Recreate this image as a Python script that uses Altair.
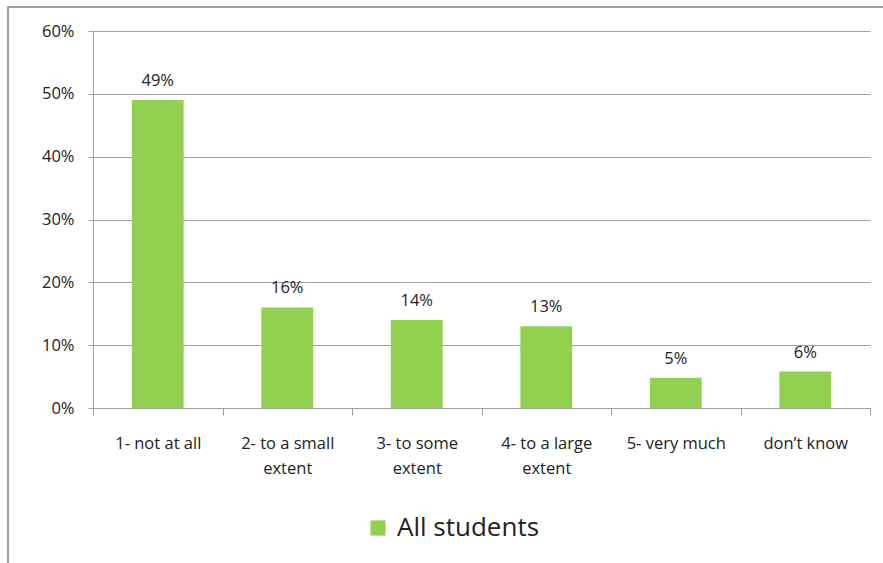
import altair as alt
import pandas as pd

categories = ["1- not at all", "2- to a small\nextent", "3- to some\nextent",
              "4- to a large\nextent", "5- very much", "don\u2019t know"]
values = [0.49, 0.16, 0.14, 0.13, 0.048, 0.058]
series = "All students"
y_ticks = [0, 0.1, 0.2, 0.3, 0.4, 0.5, 0.6]

df = pd.DataFrame({"category": categories, "value": values, "series": [series] * len(categories)})

FONT = "Open Sans"
GREEN = "#92D050"
GRAY = "#A0A0A0"

base = alt.Chart(df)

x = alt.X("category:N", sort=categories, title=None,
          scale=alt.Scale(paddingInner=0, paddingOuter=0),
          axis=alt.Axis(labelAngle=0, labelExpr='split(datum.label, "\\n")',
                        labelLineHeight=25, labelPadding=28, tickBand="extent",
                        tickSize=7, domainColor=GRAY, tickColor=GRAY,
                        labelFontSize=16.5, labelFont=FONT, labelColor="#222",
                        labelBaseline="middle"))
y = alt.Y("value:Q", title=None,
          scale=alt.Scale(domain=[0, 0.6], nice=False),
          axis=alt.Axis(values=y_ticks, format=".0%", tickSize=5, labelPadding=14,
                        domainColor=GRAY, tickColor=GRAY, gridColor=GRAY,
                        labelFontSize=16.5, labelFont=FONT, labelColor="#222"))

bars = base.mark_bar(width=alt.RelativeBandSize(0.4)).encode(
    x=x, y=y,
    color=alt.Color("series:N", title=None,
                    scale=alt.Scale(domain=[series], range=[GREEN]),
                    legend=alt.Legend(orient="none", legendX=272, legendY=484,
                                      labelFontSize=26, labelFont=FONT, labelColor="#222",
                                      symbolType="square", symbolSize=230,
                                      symbolStrokeWidth=0, labelOffset=6)))

texts = base.mark_text(baseline="bottom", dy=-11, fontSize=16.5, font=FONT, color="#222").encode(
    x=alt.X("category:N", sort=categories),
    y="value:Q",
    text=alt.Text("value:Q", format=".0%"))

frame = alt.Chart(df).mark_rect(fill=None, stroke=GRAY, strokeWidth=1.5).encode(
    x=alt.value(-85), x2=alt.value(900), y=alt.value(-24), y2=alt.value(600))

chart = alt.layer(frame, bars, texts).properties(
    width=777, height=377,
    autosize=alt.AutoSizeParams(type="none"),
    padding={"left": 93, "top": 31, "right": 13, "bottom": 155},
).configure_view(stroke=None).configure_axisY(domain=True).configure_axisX(grid=False)

chart.save("out.html", embed_options={"renderer": "svg", "actions": False})
